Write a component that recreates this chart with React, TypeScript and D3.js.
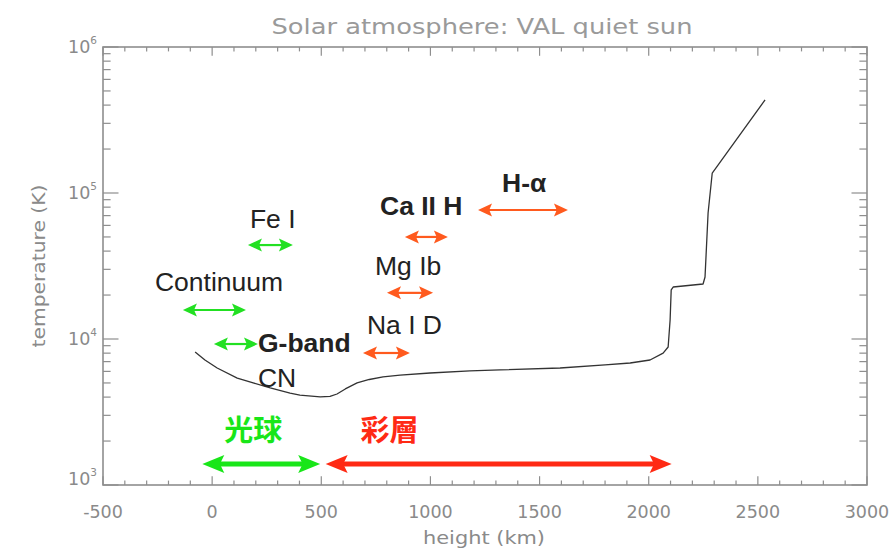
import React from 'react';
import * as d3 from 'd3';

const W = 892;
const H = 549;

// VAL quiet sun temperature profile
const heightKm = [-78, -33, 23, 115, 188, 266, 357, 402, 495, 540, 572, 610, 664, 720, 783, 861, 998, 1181, 1319, 1594, 1800, 1915, 2006, 2066, 2089, 2098, 2103, 2112, 2249, 2258, 2272, 2291, 2533];
const temperatureK = [8150, 7180, 6330, 5400, 5000, 4620, 4260, 4130, 4010, 4040, 4200, 4550, 5000, 5280, 5500, 5660, 5850, 6040, 6140, 6330, 6640, 6850, 7180, 8010, 8810, 13500, 21700, 22700, 23800, 26600, 73000, 137000, 434000];

const xTickValues = [-500, 0, 500, 1000, 1500, 2000, 2500, 3000];
const xTickLabels = ['-500', '0', '500', '1000', '1500', '2000', '2500', '3000'];
const yTickValues = [1e3, 1e4, 1e5, 1e6];
const yTickExponents = ['3', '4', '5', '6'];

const titleText = 'Solar atmosphere: VAL quiet sun';
const xTitle = 'height (km)';
const yTitle = 'temperature (K)';

// spectral line annotations
const lineLabels = ['Fe I', 'Continuum', 'G-band', 'CN', 'Ca II H', 'Mg Ib', 'Na I D', 'H-α'];
const labelHeight = [173, -262, 210, 210, 769, 746, 709, 1328];
const labelTemp = [57500, 21300, 8150, 4690, 70700, 27400, 10800, 101600];
const labelBold = [false, false, true, false, true, false, false, true];

const arrowFrom = [164, -134, 8, 883, 801, 691, 1218];
const arrowTo = [370, 155, 210, 1080, 1012, 906, 1630];
const arrowTemp = [44000, 15800, 9240, 50000, 20700, 8020, 76500];
const arrowKind = ['photo', 'photo', 'photo', 'chromo', 'chromo', 'chromo', 'chromo'];

// regions
const regionNames = ['光球', '彩層'];
const regionFrom = [-45, 520];
const regionTo = [495, 2105];
const regionArrowTemp = [1393, 1393];
const regionLabelHeight = [188, 812];
const regionLabelTemp = [1990, 1990];
const regionColors = ['#19e619', '#ff2a14'];

const margin = { left: 103, right: 892 - 867, top: 47, bottom: 549 - 485 };

const AXIS = '#8e8e8e';
const TXT = '#8a8a8a';

function Arrow({ x1, x2, y, color, width, headLen, headHalf }: any) {
  const d = `M${x1},${y} L${x1 + headLen},${y - headHalf} L${x1 + headLen * 0.8},${y} L${x1 + headLen},${y + headHalf} Z`;
  const d2 = `M${x2},${y} L${x2 - headLen},${y - headHalf} L${x2 - headLen * 0.8},${y} L${x2 - headLen},${y + headHalf} Z`;
  return (
    <g>
      <line x1={x1 + headLen * 0.7} x2={x2 - headLen * 0.7} y1={y} y2={y} stroke={color} strokeWidth={width} />
      <path d={d} fill={color} />
      <path d={d2} fill={color} />
    </g>
  );
}

export default function App() {
  const x = d3.scaleLinear().domain([-500, 3000]).range([margin.left, W - margin.right]);
  const y = d3.scaleLog().domain([1e3, 1e6]).range([H - margin.bottom, margin.top]);
  const x0 = x.range()[0], x1 = x.range()[1];
  const y0 = y.range()[0], y1 = y.range()[1];

  const pts = heightKm.map((h, i) => [h, temperatureK[i]] as [number, number]);
  const line = d3.line<[number, number]>().x(d => x(d[0])).y(d => y(d[1])).curve(d3.curveLinear);

  const xMinor = d3.range(-500, 3001, 100);
  const yMinor: number[] = [];
  for (let e = 3; e < 6; e++) for (let m = 2; m <= 9; m++) yMinor.push(m * Math.pow(10, e));

  const xMajLen = 8.8, xMinLen = 4.4, yMajLen = 15.5, yMinLen = 7.6;

  return (
    <svg width={W} height={H} style={{ position: 'absolute', left: 0, top: 0, background: '#fff' }}
      fontFamily="DejaVu Sans, sans-serif">
      <rect x={0} y={0} width={W} height={H} fill="#fff" />
      {/* title */}
      <text x={482} y={34} textAnchor="middle" fontSize={22} fill="#9a9a9a" textLength={421} lengthAdjust="spacingAndGlyphs">{titleText}</text>

      {/* frame */}
      <rect x={x0} y={y1} width={x1 - x0} height={y0 - y1} fill="none" stroke={AXIS} strokeWidth={1.6} />

      {/* x ticks */}
      {xMinor.map(v => {
        const major = v % 500 === 0;
        const L = major ? xMajLen : xMinLen;
        return (
          <g key={'xt' + v}>
            <line x1={x(v)} x2={x(v)} y1={y0} y2={y0 - L} stroke={AXIS} strokeWidth={1.2} />
            <line x1={x(v)} x2={x(v)} y1={y1} y2={y1 + L} stroke={AXIS} strokeWidth={1.2} />
          </g>
        );
      })}
      {/* y ticks */}
      {yTickValues.map(v => (
        <g key={'ym' + v}>
          <line x1={x0} x2={x0 + yMajLen} y1={y(v)} y2={y(v)} stroke={AXIS} strokeWidth={1.2} />
          <line x1={x1} x2={x1 - yMajLen} y1={y(v)} y2={y(v)} stroke={AXIS} strokeWidth={1.2} />
        </g>
      ))}
      {yMinor.map(v => (
        <g key={'yn' + v}>
          <line x1={x0} x2={x0 + yMinLen} y1={y(v)} y2={y(v)} stroke={AXIS} strokeWidth={1.2} />
          <line x1={x1} x2={x1 - yMinLen} y1={y(v)} y2={y(v)} stroke={AXIS} strokeWidth={1.2} />
        </g>
      ))}

      {/* x tick labels */}
      {xTickValues.map((v, i) => (
        <text key={'xl' + v} x={x(v)} y={518} textAnchor="middle" fontSize={17.5} fill={TXT}>{xTickLabels[i]}</text>
      ))}
      {/* y tick labels */}
      {yTickValues.map((v, i) => (
        <text key={'yl' + v} x={x0 - 6} y={y(v) + (i === 0 ? 0 : 6)} textAnchor="end" fontSize={17.5} fill={TXT}>
          10<tspan fontSize={10.5} dy={-9}>{yTickExponents[i]}</tspan>
        </text>
      ))}

      {/* axis titles */}
      <text x={484} y={544} textAnchor="middle" fontSize={17.5} fill={TXT} textLength={122} lengthAdjust="spacingAndGlyphs">{xTitle}</text>
      <text transform={`translate(45,${(y0 + y1) / 2}) rotate(-90)`} textAnchor="middle" fontSize={17.5} fill={TXT} textLength={163} lengthAdjust="spacingAndGlyphs">{yTitle}</text>

      {/* temperature curve */}
      <path d={line(pts) || ''} fill="none" stroke="#333" strokeWidth={1.3} strokeLinejoin="round" />

      {/* spectral line arrows */}
      {arrowFrom.map((a, i) => (
        <Arrow key={'ar' + i} x1={x(a)} x2={x(arrowTo[i])} y={y(arrowTemp[i])}
          color={arrowKind[i] === 'photo' ? '#22e022' : '#ff5a1e'} width={2.2} headLen={14} headHalf={6.5} />
      ))}
      {lineLabels.map((t, i) => (
        <text key={'lb' + i} x={x(labelHeight[i])} y={y(labelTemp[i])} fontSize={26.5}
          fontFamily="Liberation Sans, Arial, sans-serif" fontWeight={labelBold[i] ? 'bold' : 'normal'} fill="#222">{t}</text>
      ))}

      {/* region arrows */}
      {regionNames.map((n, i) => (
        <g key={'rg' + i}>
          <Arrow x1={x(regionFrom[i])} x2={x(regionTo[i])} y={y(regionArrowTemp[i])} color={regionColors[i]} width={5} headLen={22} headHalf={9} />
          <text x={x(regionLabelHeight[i])} y={y(regionLabelTemp[i])} textAnchor="middle" fontSize={29}
            fontFamily="Noto Sans CJK TC, Noto Sans CJK SC, sans-serif" fontWeight="bold" fill={regionColors[i]}>{n}</text>
        </g>
      ))}
    </svg>
  );
}
